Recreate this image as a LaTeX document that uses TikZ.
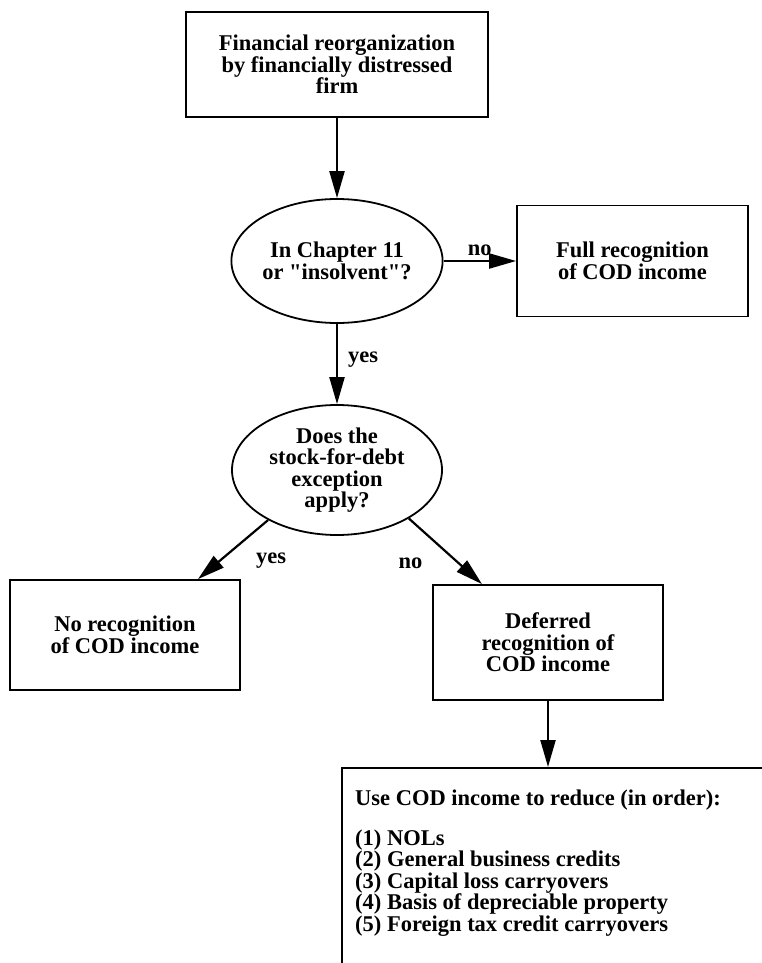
\documentclass[tikz,border=0pt]{standalone}
\usepackage{fontspec}
\setmainfont{Liberation Serif}
\usetikzlibrary{arrows.meta}
\usetikzlibrary{shapes.geometric}
\usetikzlibrary{positioning}

\begin{document}
\begin{tikzpicture}[x=1pt, y=-1pt,
  every node/.style={font=\fontsize{22.5}{21.5}\selectfont\bfseries, inner sep=0pt},
  box/.style={draw, line width=1.8pt, rectangle, align=center},
  oval/.style={draw, line width=1.8pt, ellipse, align=center},
  arr/.style={line width=2.2pt, -{Triangle[length=27pt,width=15pt]}}]
\useasboundingbox (0,0) rectangle (762,963);
\clip (0,0) rectangle (762,963);

\node[box, minimum width=302, minimum height=105] (fin) at (337,64.5) {Financial reorganization\\by financially distressed\\firm};
\node[oval, minimum width=210, minimum height=124] (chap) at (337,261) {In Chapter 11\\or \textquotedbl insolvent\textquotedbl ?};
\node[box, minimum width=231, minimum height=111] (full) at (632.5,261) {Full recognition\\of COD income};
\node[oval, minimum width=210, minimum height=130] (stock) at (337,470) {Does the\\stock-for-debt\\exception\\apply?};
\node[box, minimum width=230, minimum height=110] (norec) at (125,635) {No recognition\\of COD income};
\node[box, minimum width=230, minimum height=115] (defer) at (548,642.5) {Deferred\\recognition of\\COD income};

% last box runs off the page
\node[box, minimum width=440, minimum height=230, anchor=north west] (use) at (341,767) {};
\node[anchor=north west, align=left] (list) at (355,790) {Use COD income to reduce (in order):\\[18pt]
(1) NOLs\\(2) General business credits\\(3) Capital loss carryovers\\(4) Basis of depreciable property\\(5) Foreign tax credit carryovers};

\draw[arr] (fin) -- (chap);
\draw[arr] (chap) -- node[above=4pt] {no} (full);
\draw[arr] (chap) -- node[right=10pt, yshift=4pt] {yes} (stock);
\draw[arr] (stock.216) -- node[right=22pt, yshift=-11pt] {yes} ([xshift=73pt]norec.north);
\draw[arr] (stock.-34) -- node[left=22pt, yshift=-12pt] {no} ([xshift=-66pt]defer.north);
\draw[arr] (defer.south) -- (defer.south |- use.north);

\end{tikzpicture}
\end{document}
